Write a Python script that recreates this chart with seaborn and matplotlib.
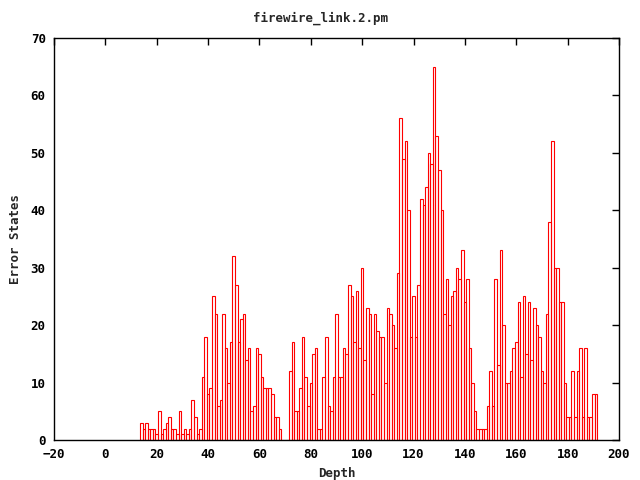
import matplotlib
matplotlib.use("Agg")
import matplotlib.pyplot as plt
import numpy as np
import pandas as pd
import seaborn as sns

# error states per depth
depth = list(range(14, 192))
error_states = [
    3, 2, 3, 2, 2, 2, 1, 5, 1, 2, 3, 4, 2, 2, 1, 5, 1, 2, 1,        # 14-32
    2, 7, 4, 1, 2, 11, 18, 8, 9, 25, 22, 6, 7, 22, 16, 10, 17, 32,  # 33-50
    27, 17, 21, 22, 14, 16, 5, 6, 16, 15, 11, 9, 9, 9, 8, 4, 4, 2,  # 51-68
    0, 0, 0, 12, 17, 5, 5, 9, 18, 11, 6, 10, 15, 16, 2, 2,          # 69-84
    11, 18, 6, 5, 11, 22, 11, 11, 16, 15, 27, 25, 17, 26, 16, 30,   # 85-100
    14, 23, 22, 8, 22, 19, 18, 18, 10, 23, 22, 20, 16, 29, 56, 49,  # 101-116
    52, 40, 18, 25, 18, 27, 42, 41, 44, 50, 48, 65, 53, 47, 40, 22, # 117-132
    28, 20, 25, 26, 30, 28, 33, 24, 28, 16, 10, 5, 2, 2, 2, 2,      # 133-148
    6, 12, 6, 28, 13, 33, 20, 10, 10, 12, 16, 17, 24, 11, 25, 15,   # 149-164
    24, 14, 23, 20, 18, 12, 10, 22, 38, 52, 30, 30, 24, 24, 10, 4,  # 165-180
    4, 12, 4, 12, 16, 4, 16, 4, 4, 8, 8,                            # 181-191
]
x_ticks = list(range(-20, 201, 20))
y_ticks = list(range(0, 71, 10))

df = pd.DataFrame({"Depth": depth, "Error States": error_states})

sns.set_style("white")
plt.rcParams["font.family"] = ["DejaVu Sans Mono"]
plt.rcParams["font.weight"] = "bold"
plt.rcParams["font.size"] = 9

fig = plt.figure(figsize=(6.4, 4.8), dpi=100)
ax = fig.add_axes([54 / 640, 1 - 440 / 480, 565 / 640, 402 / 480])

sns.histplot(data=df, x="Depth", weights="Error States", discrete=True,
             fill=False, element="bars", color="#ff0000", linewidth=0.8, ax=ax)

ax.set_xlim(-20, 200)
ax.set_ylim(0, 70)
ax.set_xticks(x_ticks)
ax.set_yticks(y_ticks)
ax.tick_params(direction="in", length=5, width=1, top=True, right=True,
               labeltop=False, labelright=False, colors="black", pad=6)
for lab in ax.get_xticklabels() + ax.get_yticklabels():
    lab.set_fontweight("bold")
for s in ax.spines.values():
    s.set_color("black")
    s.set_linewidth(1)

ax.set_xlabel("Depth", fontweight="bold", labelpad=4)
ax.set_ylabel("Error States", fontweight="bold", labelpad=6)
fig.text(0.5, 1 - 18 / 480, "firewire_link.2.pm", ha="center", va="center",
         fontweight="bold", fontsize=9)

fig.savefig("out.png", dpi=100)
